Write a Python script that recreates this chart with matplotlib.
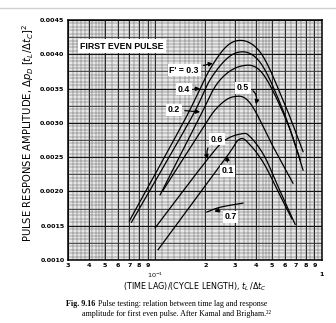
import numpy as np
import matplotlib
matplotlib.use("Agg")
import matplotlib.pyplot as plt
from matplotlib.lines import Line2D
from matplotlib.transforms import blended_transform_factory

# ---- data: time lag ratio tL/dtC versus pulse response amplitude ----
x_f03 = [0.070, 0.150, 0.220, 0.300, 0.420, 0.580, 0.770]
y_f03 = [0.00157, 0.00304, 0.00384, 0.00419, 0.00405, 0.00335, 0.00258]

x_f04 = [0.072, 0.162, 0.220, 0.305, 0.420, 0.580, 0.740]
y_f04 = [0.00155, 0.00304, 0.00368, 0.00402, 0.00390, 0.00320, 0.00246]

x_f02 = [0.107, 0.181, 0.240, 0.330, 0.440, 0.620, 0.770]
y_f02 = [0.00195, 0.00304, 0.00360, 0.00383, 0.00372, 0.00300, 0.00231]

x_f05 = [0.111, 0.190, 0.235, 0.294, 0.370, 0.510, 0.670]
y_f05 = [0.00201, 0.00290, 0.00322, 0.00338, 0.00329, 0.00265, 0.00212]

x_f06 = [0.100, 0.200, 0.260, 0.330, 0.370, 0.450, 0.550, 0.690]
y_f06 = [0.00147, 0.00243, 0.00274, 0.00284, 0.00280, 0.00252, 0.00205, 0.00152]

x_f01 = [0.104, 0.260, 0.320, 0.370, 0.450, 0.550, 0.660]
y_f01 = [0.00115, 0.00246, 0.00276, 0.00268, 0.00240, 0.00198, 0.00160]

x_f07 = [0.204, 0.246, 0.336]
y_f07 = [0.00170, 0.00177, 0.00183]

curves = [(x_f03, y_f03), (x_f04, y_f04), (x_f02, y_f02), (x_f05, y_f05),
          (x_f06, y_f06), (x_f01, y_f01), (x_f07, y_f07)]

y_ticks = [0.0010, 0.0015, 0.0020, 0.0025, 0.0030, 0.0035, 0.0040, 0.0045]
y_tick_labels = ["0.0010", "0.0015", "0.0020", "0.0025", "0.0030", "0.0035", "0.0040", "0.0045"]
x_ticks = [0.03, 0.04, 0.05, 0.06, 0.07, 0.08, 0.09, 0.1,
           0.2, 0.3, 0.4, 0.5, 0.6, 0.7, 0.8, 0.9, 1.0]
x_tick_labels = ["3", "4", "5", "6", "7", "8", "9", "",
                 "2", "3", "4", "5", "6", "7", "8", "9", ""]
x_decade_ticks = [0.1, 1.0]
x_decade_labels = ["$10^{-1}$", "1"]

# curve labels: (text, label position, arrow tip, arrow curvature)
labels = [
    ("F' = 0.3", (0.149, 0.00377), (0.222, 0.00387), 0.0),
    ("0.4",      (0.149, 0.00349), (0.186, 0.00350), 0.0),
    ("0.2",      (0.130, 0.00319), (0.186, 0.00316), 0.0),
    ("0.5",      (0.335, 0.00351), (0.402, 0.00327), -0.6),
    ("0.6",      (0.234, 0.00276), (0.206, 0.00247), 0.4),
    ("0.1",      (0.272, 0.00230), (0.270, 0.00252), 0.0),
    ("0.7",      (0.283, 0.00163), (0.226, 0.00171), 0.3),
]


def catmull_rom(xs, ys, n=40):
    """Smooth curve through the points in (log10 x, y) space."""
    u = np.log10(np.asarray(xs, float))
    v = np.asarray(ys, float)
    P = np.column_stack([u, v])
    P = np.vstack([2 * P[0] - P[1], P, 2 * P[-1] - P[-2]])
    out = []
    t = np.linspace(0, 1, n)[:, None]
    for i in range(1, len(P) - 2):
        p0, p1, p2, p3 = P[i - 1], P[i], P[i + 1], P[i + 2]
        seg = 0.5 * ((2 * p1) + (-p0 + p2) * t + (2 * p0 - 5 * p1 + 4 * p2 - p3) * t ** 2
                     + (-p0 + 3 * p1 - 3 * p2 + p3) * t ** 3)
        out.append(seg if i == 1 else seg[1:])
    S = np.vstack(out)
    return 10 ** S[:, 0], S[:, 1]


fig = plt.figure(figsize=(3.36, 3.23), dpi=100)
fig.patch.set_facecolor("white")
ax = fig.add_axes([68 / 336, 63 / 323, 254 / 336, 240 / 323])
ax.set_xscale("log")
ax.set_xlim(0.03, 1.0)
ax.set_ylim(0.0010, 0.0045)
ax.set_facecolor("#e8e8e8")

# graph-paper grid
minor_x = np.concatenate([np.arange(0.030, 0.050, 0.002), np.arange(0.050, 0.100, 0.005),
                          np.arange(0.10, 0.20, 0.01), np.arange(0.20, 0.50, 0.02),
                          np.arange(0.50, 1.00, 0.05)])
for xv in minor_x:
    ax.axvline(xv, color="#5a5a5a", lw=0.35, zorder=1)
for xv in x_ticks:
    ax.axvline(xv, color="#202020", lw=0.7, zorder=1)
for yv in np.arange(0.0010, 0.0045, 0.00005):
    ax.axhline(yv, color="#5a5a5a", lw=0.35, zorder=1)
for yv in np.arange(0.0010, 0.0045, 0.00025):
    ax.axhline(yv, color="#303030", lw=0.55, zorder=1)
for yv in y_ticks:
    ax.axhline(yv, color="#151515", lw=0.8, zorder=1)

for xs, ys in curves:
    cx, cy = catmull_rom(xs, ys)
    ax.plot(cx, cy, color="black", lw=0.9, zorder=3)

label_font = dict(family=["Liberation Sans Narrow", "Liberation Sans", "DejaVu Sans"],
                  fontweight="bold", fontsize=6.3)
for text, pos, tip, rad in labels:
    ax.annotate(text, xy=tip, xytext=pos, ha="center", va="center", zorder=5,
                bbox=dict(fc="white", ec="none", pad=1.2),
                arrowprops=dict(arrowstyle="-|>", color="black", lw=0.9,
                                mutation_scale=6, shrinkA=2, shrinkB=0,
                                connectionstyle=f"arc3,rad={rad}"),
                **label_font)

ax.text(0.0632, 0.00412, "FIRST EVEN PULSE", ha="center", va="center", zorder=5,
        bbox=dict(fc="white", ec="none", pad=1.8), **label_font)

ax.set_xticks(x_ticks)
ax.set_xticklabels(x_tick_labels)
ax.set_xticks([], minor=True)
ax.set_yticks(y_ticks)
ax.set_yticklabels(y_tick_labels)
ax.tick_params(axis="both", length=0, labelsize=4.6, pad=2.5)
for lab in ax.get_xticklabels() + ax.get_yticklabels():
    lab.set_fontweight("bold")
for sp in ax.spines.values():
    sp.set_linewidth(1.1)
    sp.set_zorder(6)

# decade labels sit on a second row below the digit labels
trans = blended_transform_factory(ax.transData, ax.transAxes)
for xv, txt in zip(x_decade_ticks, x_decade_labels):
    ax.text(xv, -0.062, txt, transform=trans, ha="center", va="center",
            fontsize=4.6, fontweight="bold")

ax.set_xlabel(r"(TIME LAG)/(CYCLE LENGTH), $t_L\,/\Delta t_C$", fontsize=5.8, labelpad=9)
fig.text(28 / 336, 0.587,
         r"PULSE RESPONSE AMPLITUDE, $\Delta p_D\;[t_L/\Delta t_C]^2$",
         rotation=90, ha="center", va="center", fontsize=7.2)

# caption
cap_font = ["Liberation Serif", "DejaVu Serif"]
cap_size = 5.8
fig.canvas.draw()
renderer = fig.canvas.get_renderer()
t1 = fig.text(66 / 336, 1 - 303.5 / 323, "Fig. 9.16", family=cap_font, fontweight="bold",
              fontsize=cap_size, va="center", ha="left")
bb = t1.get_window_extent(renderer)
fig.text(bb.x1 / fig.bbox.width + 0.007, 1 - 303.5 / 323,
         "Pulse testing: relation between time lag and response",
         family=cap_font, fontsize=cap_size, va="center", ha="left")
fig.text(176 / 336, 1 - 313.5 / 323,
         "amplitude for first even pulse. After Kamal and Brigham.²²",
         family=cap_font, fontsize=cap_size, va="center", ha="center")

fig.add_artist(Line2D([0, 1], [1 - 8 / 323] * 2, color="#d0d0d0", lw=1.0))

fig.savefig("out.png", dpi=100)
